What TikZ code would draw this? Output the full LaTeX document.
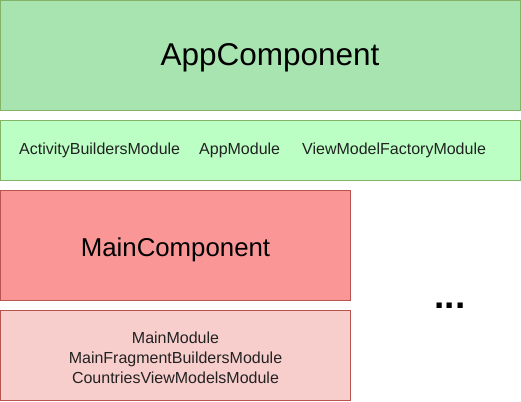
\documentclass[tikz,border=0pt]{standalone}
\usepackage{fontspec}
\setmainfont{Liberation Sans}
\definecolor{appfill}{HTML}{A8E4B0}
\definecolor{modfill}{HTML}{BBFFC4}
\definecolor{greenline}{HTML}{82B366}
\definecolor{mainfill}{HTML}{FA9696}
\definecolor{mmodfill}{HTML}{F8CECC}
\definecolor{redline}{HTML}{B85450}
\definecolor{txt}{HTML}{222222}
\begin{document}
\begin{tikzpicture}[x=1pt,y=-1pt,
  greenbox/.style={draw=greenline,line width=1pt},
  redbox/.style={draw=redline,line width=1pt},
  bigtext/.style={font=\fontsize{31.5}{36}\selectfont,text=black,inner sep=0pt,anchor=base},
  midtext/.style={font=\fontsize{25.8}{30}\selectfont,text=black,inner sep=0pt,anchor=base},
  smalltext/.style={font=\fontsize{16}{20}\selectfont,text=txt,inner sep=0pt,align=center}]
\useasboundingbox (0,0) rectangle (521,401);
\fill[white] (0,0) rectangle (521,401);
\draw[greenbox,fill=appfill] (0.5,0.5) rectangle (520.5,110.5);
\node[bigtext] (app) at (270,66) {AppComponent};
\draw[greenbox,fill=modfill] (0.5,120.5) rectangle (520.5,180.5);
\node[smalltext,anchor=west] (abm) at (19,150.5) {ActivityBuildersModule};
\node[smalltext,anchor=west] (am) at (199,150.5) {AppModule};
\node[smalltext,anchor=west] (vmfm) at (302,150.5) {ViewModelFactoryModule};
\draw[redbox,fill=mainfill] (0.5,190.5) rectangle (350.5,300.5);
\node[midtext] (mc) at (175.5,256) {MainComponent};
\draw[redbox,fill=mmodfill] (0.5,310.5) rectangle (350.5,400.5);
\node[smalltext] (mm) at (175.5,357.5) {MainModule\\MainFragmentBuildersModule\\CountriesViewModelsModule};
\node[font=\fontsize{37}{40}\selectfont\bfseries,inner sep=0pt,anchor=base] (dots) at (450,308.5) {...};
\end{tikzpicture}
\end{document}
